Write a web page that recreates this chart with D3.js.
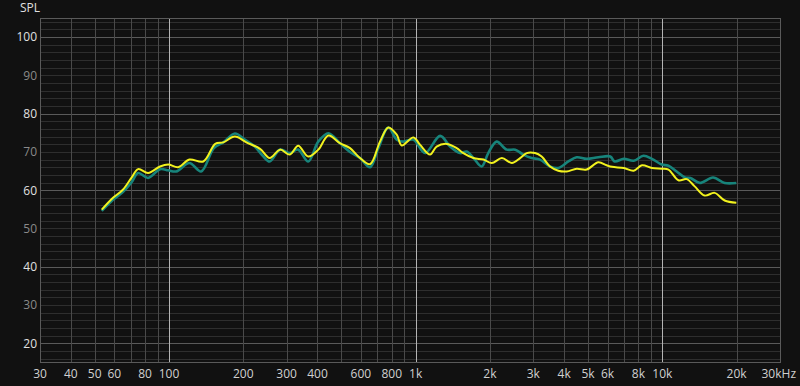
<!DOCTYPE html>
<html>
<head>
<meta charset="utf-8">
<script src="https://cdn.jsdelivr.net/npm/d3@7"></script>
<style>
  body { margin: 0; background: #111111; }
  svg { display: block; }
  text { font-family: "Open Sans", "Noto Sans", sans-serif; font-size: 12px; }
</style>
</head>
<body>
<script>
// data (Hz, dB)
const yellowFreq = [53.4, 59.3, 65, 70.4, 75, 82.3, 92, 99.3, 109, 121, 137.8, 154, 166, 185, 206, 234, 256, 282, 309, 334, 367, 403, 443, 493, 542, 595, 653, 717, 775, 838, 878, 980, 1041, 1144, 1216, 1337, 1467, 1561, 1716, 1883, 2036, 2237, 2455, 2652, 2820, 3049, 3243, 3506, 3786, 4096, 4496, 4933, 5504, 5951, 6250, 6980, 7654, 8274, 9075, 9953, 10590, 11620, 12560, 13530, 14850, 16300, 17900, 19960];
const yellowSpl = [54.9, 58.0, 60.1, 63.2, 65.5, 64.5, 66.2, 66.7, 66.0, 68.0, 67.5, 72.1, 72.5, 74.0, 72.5, 70.8, 68.4, 70.6, 69.3, 71.6, 68.8, 70.6, 74.3, 72.3, 71.0, 68.4, 66.8, 72.7, 76.4, 74.5, 71.7, 73.8, 71.9, 69.3, 71.4, 72.1, 71.0, 69.7, 68.4, 68.0, 67.1, 68.4, 67.1, 68.4, 69.7, 69.7, 68.8, 66.2, 65.1, 64.9, 65.6, 65.4, 67.3, 66.5, 66.1, 65.8, 65.1, 66.5, 65.8, 65.6, 65.4, 62.6, 62.9, 61.0, 58.6, 59.3, 57.3, 56.7];

const tealFreq = [53.4, 59.3, 65, 70.4, 75, 82.3, 92, 99.3, 107, 121, 135, 152, 166, 185, 203, 223, 240, 256, 282, 309, 334, 367, 403, 443, 493, 542, 595, 653, 706, 775, 838, 890, 980, 1091, 1257, 1379, 1514, 1611, 1716, 1852, 1970, 2130, 2340, 2532, 2730, 2953, 3192, 3506, 3786, 4160, 4496, 4933, 5504, 6152, 6410, 6980, 7654, 8390, 9075, 9953, 10590, 11430, 12360, 13000, 14180, 16060, 17900, 19960];
const tealSpl = [54.6, 57.5, 59.5, 62.0, 64.5, 63.2, 65.5, 65.2, 64.9, 67.1, 64.9, 71.0, 72.5, 74.8, 73.2, 71.4, 69.0, 67.5, 70.6, 69.7, 70.6, 67.5, 72.7, 74.9, 72.3, 70.0, 68.4, 66.0, 71.0, 76.4, 73.2, 72.7, 73.2, 69.7, 74.2, 71.4, 69.7, 70.1, 68.4, 66.2, 69.7, 72.7, 70.6, 70.6, 69.3, 68.4, 68.0, 66.2, 65.8, 67.5, 68.6, 68.2, 68.6, 68.8, 67.5, 68.2, 67.7, 69.0, 68.2, 66.7, 66.4, 64.9, 63.3, 63.2, 61.9, 63.3, 61.9, 61.9];

const xTicks = [30, 40, 50, 60, 80, 100, 200, 300, 400, 600, 800, 1000, 2000, 3000, 4000, 5000, 6000, 8000, 10000, 20000, 30000];
const xTickLabels = ["30", "40", "50", "60", "80", "100", "200", "300", "400", "600", "800", "1k", "2k", "3k", "4k", "5k", "6k", "8k", "10k", "20k", "30kHz"];
const yTicks = [20, 30, 40, 50, 60, 70, 80, 90, 100];

const width = 800, height = 386;
const plotLeft = 40, plotRight = 780, plotTop = 18, plotBottom = 362;

const svg = d3
  .select("body")
  .append("svg")
  .attr("width", width)
  .attr("height", height);

const x = d3.scaleLog().domain([30, 30000]).range([plotLeft, plotRight]);
const y = d3.scaleLinear().domain([15.1, 105]).range([plotBottom, plotTop]);

// horizontal grid, every 2 dB
const hLines = d3.range(16, 105, 2);
svg.selectAll(".hgrid")
  .data(hLines)
  .enter()
  .append("line")
  .attr("x1", plotLeft)
  .attr("x2", plotRight)
  .attr("y1", d => Math.round(y(d)) + 0.5)
  .attr("y2", d => Math.round(y(d)) + 0.5)
  .attr("stroke", d => d % 20 === 0 ? "#5a5a5a" : "#2e2e2e")
  .attr("stroke-width", 1);

// vertical grid, 1-2-3..9 in every decade
const vLines = [];
[10, 100, 1000, 10000].forEach(dec => {
  for (let i = 1; i <= 9; i++) {
    const f = dec * i;
    if (f > 30 && f < 30000) vLines.push(f);
  }
});
svg.selectAll(".vgrid")
  .data(vLines)
  .enter()
  .append("line")
  .attr("x1", d => Math.round(x(d)) + 0.5)
  .attr("x2", d => Math.round(x(d)) + 0.5)
  .attr("y1", plotTop)
  .attr("y2", plotBottom)
  .attr("stroke", d => [100, 1000, 10000].includes(d) ? "#b4b4b4" : "#4a4a4a")
  .attr("stroke-width", 1);

// frame
svg.append("rect")
  .attr("x", plotLeft + 0.5)
  .attr("y", plotTop + 0.5)
  .attr("width", plotRight - plotLeft)
  .attr("height", plotBottom - plotTop)
  .attr("fill", "none")
  .attr("stroke", "#5a5a5a");

// y labels
svg.selectAll(".ylab")
  .data(yTicks)
  .enter()
  .append("text")
  .attr("x", 37)
  .attr("y", d => y(d))
  .attr("dy", "0.36em")
  .attr("text-anchor", "end")
  .attr("fill", d => d % 20 === 0 ? "#e0e0e0" : "#8a8a8a")
  .text(d => d);

svg.append("text")
  .attr("x", 20)
  .attr("y", 12)
  .attr("fill", "#e0e0e0")
  .text("SPL");

// x labels
svg.selectAll(".xlab")
  .data(xTicks)
  .enter()
  .append("text")
  .attr("x", (d, i) => i === xTicks.length - 1 ? 796 : x(d))
  .attr("y", 378)
  .attr("text-anchor", (d, i) => i === xTicks.length - 1 ? "end" : "middle")
  .attr("fill", "#d0d0d0")
  .text((d, i) => xTickLabels[i]);

// the two curves
const line = d3.line()
  .x(d => x(d[0]))
  .y(d => y(d[1]))
  .curve(d3.curveCatmullRom.alpha(0.5));

svg.append("path")
  .datum(d3.zip(tealFreq, tealSpl))
  .attr("d", line)
  .attr("fill", "none")
  .attr("stroke", "#17847b")
  .attr("stroke-width", 2.6)
  .attr("stroke-linejoin", "round");

svg.append("path")
  .datum(d3.zip(yellowFreq, yellowSpl))
  .attr("d", line)
  .attr("fill", "none")
  .attr("stroke", "#f2f21e")
  .attr("stroke-width", 2)
  .attr("stroke-linejoin", "round");
</script>
</body>
</html>
